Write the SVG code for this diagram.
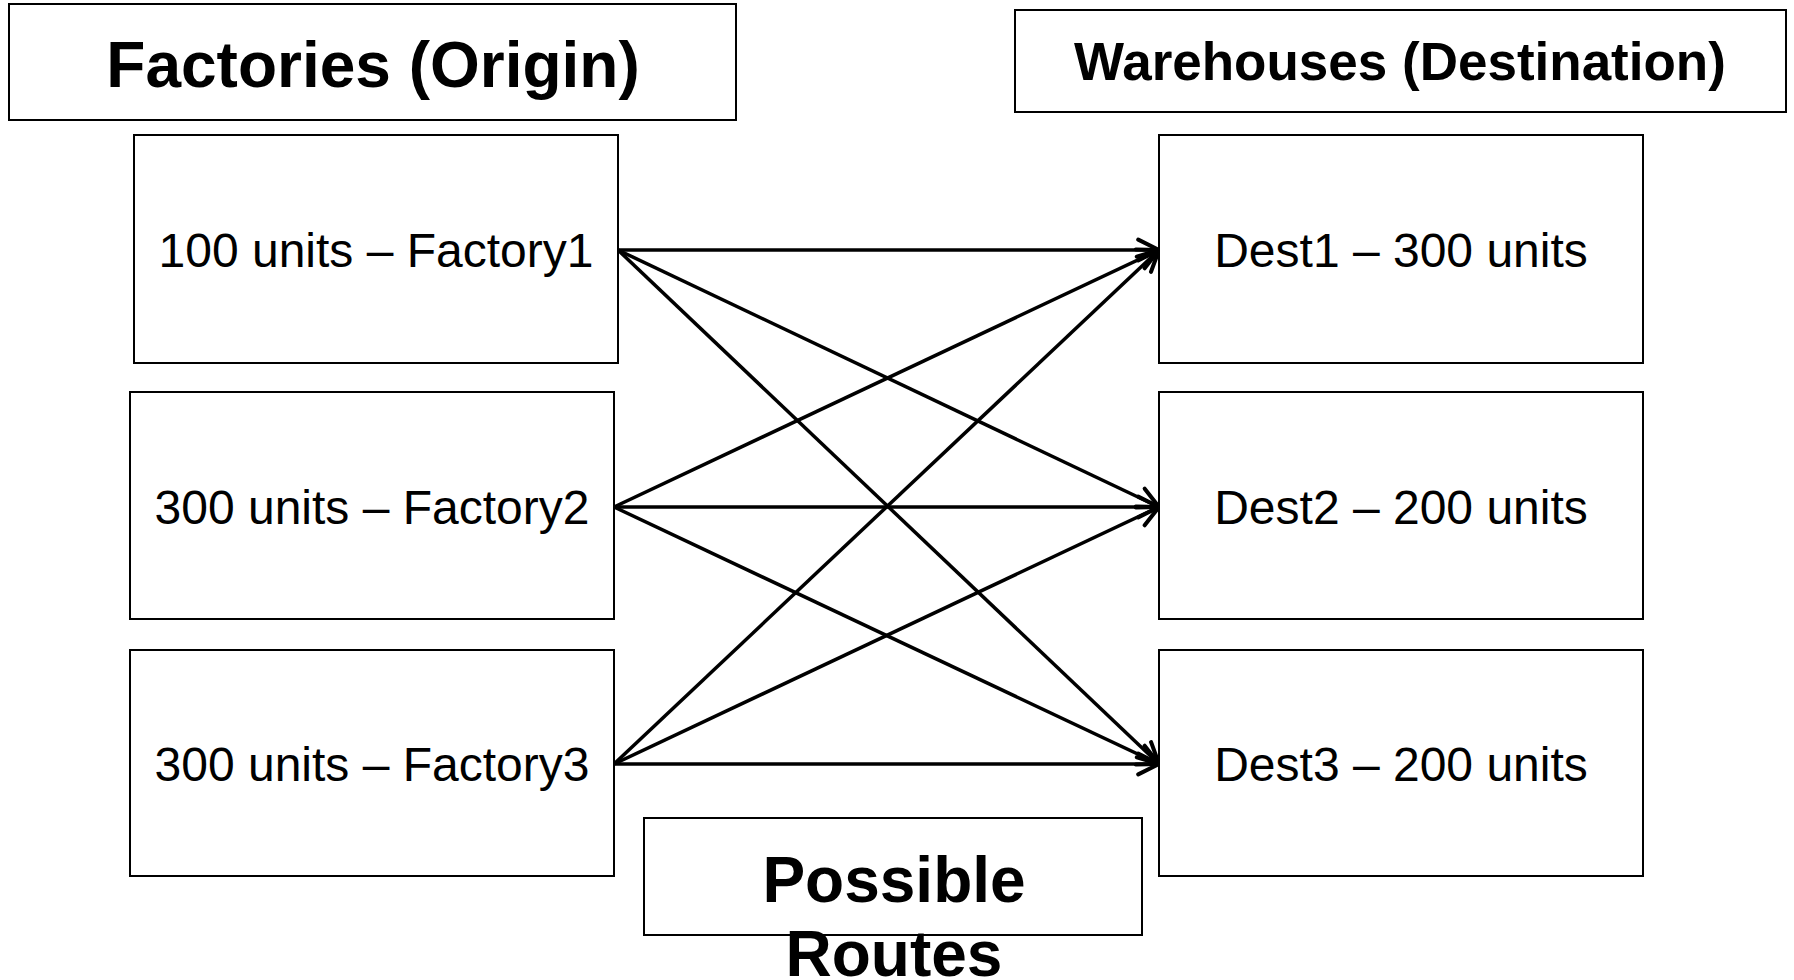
<svg xmlns="http://www.w3.org/2000/svg" width="1794" height="980" viewBox="0 0 1794 980">
<style>
.box{fill:#fff;stroke:#000;stroke-width:2}
.title{font-family:"Liberation Sans",Arial,sans-serif;font-weight:bold;fill:#000;text-anchor:middle}
.lbl{font-family:"Liberation Sans",Arial,sans-serif;font-size:48px;fill:#000;text-anchor:middle}
.conn{stroke:#000;stroke-width:3.5;fill:none;marker-end:url(#arr)}
</style>
<defs>
<marker id="arr" markerUnits="userSpaceOnUse" markerWidth="30" markerHeight="30" refX="20" refY="10" orient="auto" viewBox="-2 -2 26 24">
<path d="M2,1 L20,10 L2,19" fill="none" stroke="#000" stroke-width="3.5" stroke-linecap="round" stroke-linejoin="round"/>
</marker>
</defs>
<rect width="1794" height="980" fill="#fff"/>
<g id="title-factories">
<rect class="box" x="9" y="4" width="727" height="116"/>
<text class="title" x="373" y="87" font-size="64">Factories (Origin)</text>
</g>
<g id="title-warehouses">
<rect class="box" x="1015" y="10" width="771" height="102"/>
<text class="title" x="1400" y="80" font-size="53">Warehouses (Destination)</text>
</g>
<g id="connectors">
<line class="conn" x1="618" y1="250" x2="1159" y2="250"/>
<line class="conn" x1="618" y1="250" x2="1159" y2="507"/>
<line class="conn" x1="618" y1="250" x2="1159" y2="764"/>
<line class="conn" x1="614" y1="507" x2="1159" y2="250"/>
<line class="conn" x1="614" y1="507" x2="1159" y2="507"/>
<line class="conn" x1="614" y1="507" x2="1159" y2="764"/>
<line class="conn" x1="614" y1="764" x2="1159" y2="250"/>
<line class="conn" x1="614" y1="764" x2="1159" y2="507"/>
<line class="conn" x1="614" y1="764" x2="1159" y2="764"/>
</g>
<g id="factory1">
<rect class="box" x="134" y="135" width="484" height="228"/>
<text class="lbl" x="376" y="267">100 units – Factory1</text>
</g>
<g id="factory2">
<rect class="box" x="130" y="392" width="484" height="227"/>
<text class="lbl" x="372" y="524">300 units – Factory2</text>
</g>
<g id="factory3">
<rect class="box" x="130" y="650" width="484" height="226"/>
<text class="lbl" x="372" y="781">300 units – Factory3</text>
</g>
<g id="dest1">
<rect class="box" x="1159" y="135" width="484" height="228"/>
<text class="lbl" x="1401" y="267">Dest1 – 300 units</text>
</g>
<g id="dest2">
<rect class="box" x="1159" y="392" width="484" height="227"/>
<text class="lbl" x="1401" y="524">Dest2 – 200 units</text>
</g>
<g id="dest3">
<rect class="box" x="1159" y="650" width="484" height="226"/>
<text class="lbl" x="1401" y="781">Dest3 – 200 units</text>
</g>
<g id="possible-routes">
<rect class="box" x="644" y="818" width="498" height="117"/>
<text class="title" x="894" y="902" font-size="64">Possible</text>
<text class="title" x="894" y="976" font-size="64">Routes</text>
</g>
</svg>
